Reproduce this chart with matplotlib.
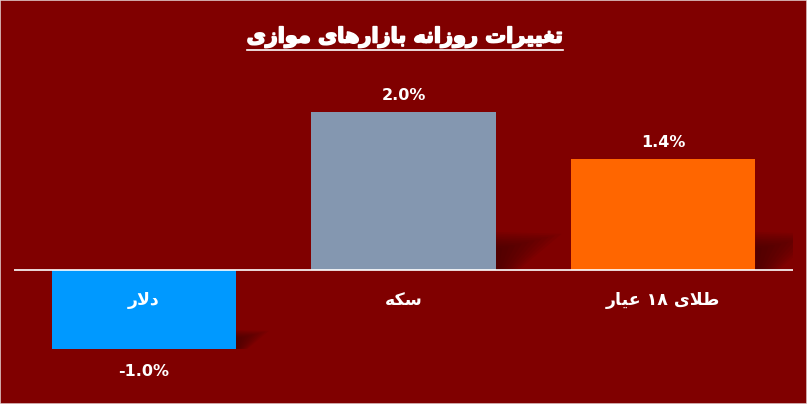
import matplotlib
matplotlib.use("Agg")
import matplotlib.pyplot as plt
from matplotlib.patches import Polygon
import matplotlib.patheffects as pe
import numpy as np

# ---- data ----
categories = ["دلار", "سکه", "طلای ۱۸ عیار"]
values = [-1.0, 2.0, 1.4]
value_labels = ["-1.0%", "2.0%", "1.4%"]
bar_colors = ["#0099FF", "#8497B0", "#FF6600"]
title_text = "تغییرات روزانه بازارهای موازی"

# ---- minimal Persian shaping ----
FORMS = {  # isolated, final, initial, medial
    "ا": ("\uFE8D", "\uFE8E", None, None),
    "ب": ("\uFE8F", "\uFE90", "\uFE91", "\uFE92"),
    "ت": ("\uFE95", "\uFE96", "\uFE97", "\uFE98"),
    "د": ("\uFEA9", "\uFEAA", None, None),
    "ر": ("\uFEAD", "\uFEAE", None, None),
    "ز": ("\uFEAF", "\uFEB0", None, None),
    "س": ("\uFEB1", "\uFEB2", "\uFEB3", "\uFEB4"),
    "ط": ("\uFEC1", "\uFEC2", "\uFEC3", "\uFEC4"),
    "ع": ("\uFEC9", "\uFECA", "\uFECB", "\uFECC"),
    "غ": ("\uFECD", "\uFECE", "\uFECF", "\uFED0"),
    "ل": ("\uFEDD", "\uFEDE", "\uFEDF", "\uFEE0"),
    "م": ("\uFEE1", "\uFEE2", "\uFEE3", "\uFEE4"),
    "ن": ("\uFEE5", "\uFEE6", "\uFEE7", "\uFEE8"),
    "ه": ("\uFEE9", "\uFEEA", "\uFEEB", "\uFEEC"),
    "و": ("\uFEED", "\uFEEE", None, None),
    "ی": ("\uFBFC", "\uFBFD", "\uFBFE", "\uFBFF"),
    "ک": ("\uFB8E", "\uFB8F", "\uFB90", "\uFB91"),
}


def dual(c):
    return c in FORMS and FORMS[c][2] is not None


def joining(c):
    return c in FORMS


def shape_word(w):
    if not any(c in FORMS for c in w):
        return w
    out = []
    i = 0
    n = len(w)
    while i < n:
        c = w[i]
        prev = w[i - 1] if i > 0 else ""
        pc = dual(prev)
        if c == "ل" and i + 1 < n and w[i + 1] == "ا":
            out.append("\uFEFC" if pc else "\uFEFB")
            i += 2
            continue
        if c not in FORMS:
            out.append(c)
            i += 1
            continue
        nxt = w[i + 1] if i + 1 < n else ""
        nc = dual(c) and joining(nxt)
        iso, fin, ini, med = FORMS[c]
        if pc and nc:
            out.append(med)
        elif pc:
            out.append(fin)
        elif nc:
            out.append(ini)
        else:
            out.append(iso)
        i += 1
    return "".join(reversed(out))


def rtl(s):
    words = s.split(" ")
    shaped = []
    for w in words:
        if all(c in "۰۱۲۳۴۵۶۷۸۹0123456789" for c in w):
            shaped.append(w)
        else:
            shaped.append(shape_word(w))
    return " ".join(reversed(shaped))


BG = "#800000"
W, H = 807, 404
fig = plt.figure(figsize=(W / 100, H / 100), dpi=100, facecolor=BG)
fig.patches.append(plt.Rectangle((0, 0), 1, 1, transform=fig.transFigure,
                                 fill=False, edgecolor="#E0C8C8", lw=1.2))

# axes: x from px 14 to 793, y from px 70 to 390
ax = fig.add_axes([14 / W, 1 - 390 / H, (793 - 14) / W, 320 / H])
ax.set_facecolor(BG)
ax.set_xlim(-0.5, 2.5)
ax.set_ylim(-1.52, 2.53)
for s in ax.spines.values():
    s.set_visible(False)
ax.set_xticks([])
ax.set_yticks([])

x = np.arange(len(categories))
bw = 0.71

# soft decorative shadows behind the bars (lower-right)
for xi, v in zip(x, values):
    right = xi + bw / 2
    base = 0 if v > 0 else v
    p0 = ax.transData.transform((right, base))
    scale = 1.0 if v > 0 else 0.5
    n_layers = 10
    for k in range(n_layers):
        f = 1 - k / n_layers
        dx = 66 * scale * f
        dy = 38 * scale * (0.55 + 0.45 * f)
        poly = [p0 + np.array([0, 0]),
                p0 + np.array([0, dy]),
                p0 + np.array([dx, dy * 0.95]),
                p0 + np.array([dx * 0.35, 0])]
        poly_d = ax.transData.inverted().transform(poly)
        ax.add_patch(Polygon(poly_d, closed=True, facecolor="#300000",
                             edgecolor="none", alpha=0.07, zorder=1))

bars = ax.bar(x, values, width=bw, color=bar_colors, zorder=2)
ax.axhline(0, color="white", lw=1.2, zorder=3)

for xi, v, lab in zip(x, values, value_labels):
    off = 12 if v >= 0 else -16
    ax.annotate(lab, (xi, v), xytext=(0, off), textcoords="offset points",
                ha="center", va="center", color="white",
                fontsize=11.5, fontweight="bold", family="DejaVu Sans")

for xi, c in zip(x, categories):
    ax.annotate(rtl(c), (xi, 0), xytext=(0, -22), textcoords="offset points",
                ha="center", va="center", color="white", fontsize=12.5,
                fontweight="bold", family="DejaVu Sans", zorder=4)

t = fig.text(405 / W, 1 - 37 / H, rtl(title_text), ha="center", va="center",
             color="white", fontsize=15, fontweight="bold", family="DejaVu Sans",
             path_effects=[pe.withStroke(linewidth=1.2, foreground="white")])
fig.canvas.draw()
bb = t.get_window_extent()
yline = bb.y0 - 2
fig.add_artist(plt.Line2D([bb.x0 / W, bb.x1 / W], [yline / H, yline / H],
                          color="white", lw=1.2, transform=fig.transFigure))

fig.savefig("out.png", dpi=100, facecolor=BG)
